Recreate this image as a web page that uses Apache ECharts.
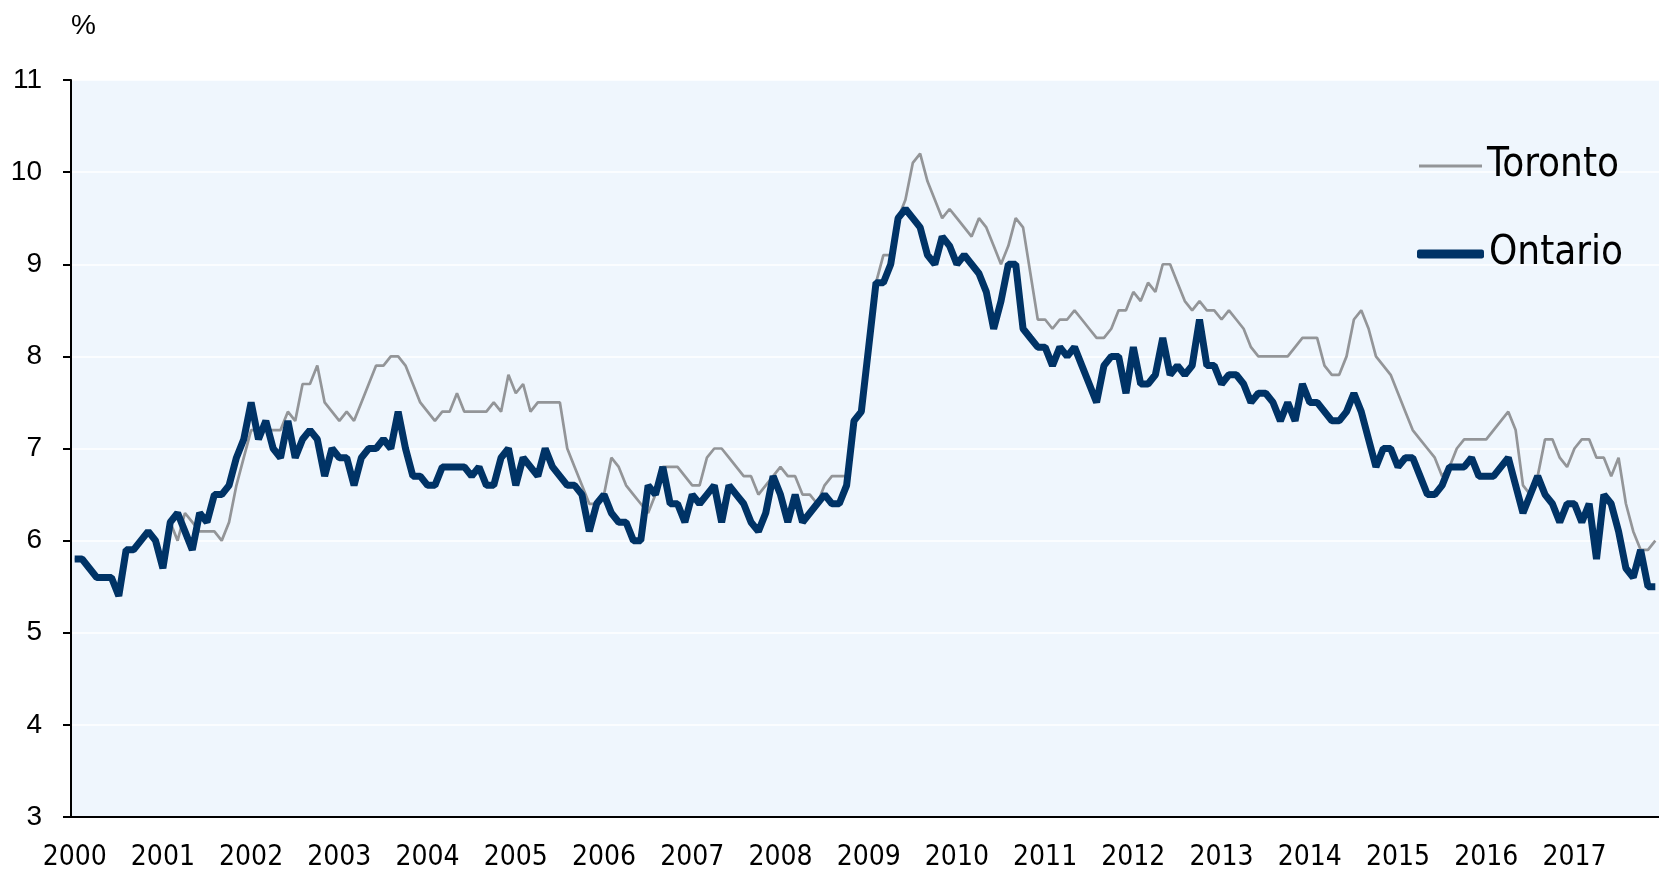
<!DOCTYPE html>
<html>
<head>
<meta charset="utf-8">
<script src="https://cdn.jsdelivr.net/npm/echarts@6/dist/echarts.min.js"></script>
<style>
  html, body { margin: 0; padding: 0; background: #fff; }
  #chart { width: 1659px; height: 876px; }
</style>
</head>
<body>
<div id="chart"></div>
<script>
// tick labels: one per year, data is monthly from Jan 2000 to Dec 2017
var years = [2000, 2001, 2002, 2003, 2004, 2005, 2006, 2007, 2008,
  2009, 2010, 2011, 2012, 2013, 2014, 2015, 2016, 2017];

// unemployment rate, %
var ontario = [
  5.8, 5.8, 5.7, 5.6, 5.6, 5.6, 5.4, 5.9, 5.9, 6.0, 6.1, 6.0,
  5.7, 6.2, 6.3, 6.1, 5.9, 6.3, 6.2, 6.5, 6.5, 6.6, 6.9, 7.1,
  7.5, 7.1, 7.3, 7.0, 6.9, 7.3, 6.9, 7.1, 7.2, 7.1, 6.7, 7.0,
  6.9, 6.9, 6.6, 6.9, 7.0, 7.0, 7.1, 7.0, 7.4, 7.0, 6.7, 6.7,
  6.6, 6.6, 6.8, 6.8, 6.8, 6.8, 6.7, 6.8, 6.6, 6.6, 6.9, 7.0,
  6.6, 6.9, 6.8, 6.7, 7.0, 6.8, 6.7, 6.6, 6.6, 6.5, 6.1, 6.4,
  6.5, 6.3, 6.2, 6.2, 6.0, 6.0, 6.6, 6.5, 6.8, 6.4, 6.4, 6.2,
  6.5, 6.4, 6.5, 6.6, 6.2, 6.6, 6.5, 6.4, 6.2, 6.1, 6.3, 6.7,
  6.5, 6.2, 6.5, 6.2, 6.3, 6.4, 6.5, 6.4, 6.4, 6.6, 7.3, 7.4,
  8.1, 8.8, 8.8, 9.0, 9.5, 9.6, 9.5, 9.4, 9.1, 9.0, 9.3, 9.2,
  9.0, 9.1, 9.0, 8.9, 8.7, 8.3, 8.6, 9.0, 9.0, 8.3, 8.2, 8.1,
  8.1, 7.9, 8.1, 8.0, 8.1, 7.9, 7.7, 7.5, 7.9, 8.0, 8.0, 7.6,
  8.1, 7.7, 7.7, 7.8, 8.2, 7.8, 7.9, 7.8, 7.9, 8.4, 7.9, 7.9,
  7.7, 7.8, 7.8, 7.7, 7.5, 7.6, 7.6, 7.5, 7.3, 7.5, 7.3, 7.7,
  7.5, 7.5, 7.4, 7.3, 7.3, 7.4, 7.6, 7.4, 7.1, 6.8, 7.0, 7.0,
  6.8, 6.9, 6.9, 6.7, 6.5, 6.5, 6.6, 6.8, 6.8, 6.8, 6.9, 6.7,
  6.7, 6.7, 6.8, 6.9, 6.6, 6.3, 6.5, 6.7, 6.5, 6.4, 6.2, 6.4,
  6.4, 6.2, 6.4, 5.8, 6.5, 6.4, 6.1, 5.7, 5.6, 5.9, 5.5, 5.5
];

var toronto = [
  5.8, 5.8, 5.7, 5.6, 5.6, 5.6, 5.4, 5.9, 5.9, 6.0, 6.1, 6.0,
  5.7, 6.2, 6.0, 6.3, 6.2, 6.1, 6.1, 6.1, 6.0, 6.2, 6.6, 6.9,
  7.2, 7.2, 7.2, 7.2, 7.2, 7.4, 7.3, 7.7, 7.7, 7.9, 7.5, 7.4,
  7.3, 7.4, 7.3, 7.5, 7.7, 7.9, 7.9, 8.0, 8.0, 7.9, 7.7, 7.5,
  7.4, 7.3, 7.4, 7.4, 7.6, 7.4, 7.4, 7.4, 7.4, 7.5, 7.4, 7.8,
  7.6, 7.7, 7.4, 7.5, 7.5, 7.5, 7.5, 7.0, 6.8, 6.6, 6.4, 6.4,
  6.5, 6.9, 6.8, 6.6, 6.5, 6.4, 6.3, 6.5, 6.8, 6.8, 6.8, 6.7,
  6.6, 6.6, 6.9, 7.0, 7.0, 6.9, 6.8, 6.7, 6.7, 6.5, 6.6, 6.7,
  6.8, 6.7, 6.7, 6.5, 6.5, 6.4, 6.6, 6.7, 6.7, 6.7, 7.3, 7.4,
  8.1, 8.8, 9.1, 9.1, 9.5, 9.7, 10.1, 10.2, 9.9, 9.7, 9.5, 9.6,
  9.5, 9.4, 9.3, 9.5, 9.4, 9.2, 9.0, 9.2, 9.5, 9.4, 8.9, 8.4,
  8.4, 8.3, 8.4, 8.4, 8.5, 8.4, 8.3, 8.2, 8.2, 8.3, 8.5, 8.5,
  8.7, 8.6, 8.8, 8.7, 9.0, 9.0, 8.8, 8.6, 8.5, 8.6, 8.5, 8.5,
  8.4, 8.5, 8.4, 8.3, 8.1, 8.0, 8.0, 8.0, 8.0, 8.0, 8.1, 8.2,
  8.2, 8.2, 7.9, 7.8, 7.8, 8.0, 8.4, 8.5, 8.3, 8.0, 7.9, 7.8,
  7.6, 7.4, 7.2, 7.1, 7.0, 6.9, 6.7, 6.8, 7.0, 7.1, 7.1, 7.1,
  7.1, 7.2, 7.3, 7.4, 7.2, 6.6, 6.5, 6.7, 7.1, 7.1, 6.9, 6.8,
  7.0, 7.1, 7.1, 6.9, 6.9, 6.7, 6.9, 6.4, 6.1, 5.9, 5.9, 6.0
];

var months = [];
years.forEach(function (y) {
  for (var m = 1; m <= 12; m++) months.push(y + '-' + (m < 10 ? '0' : '') + m);
});

var labelFont = '"DejaVu Sans Condensed", "DejaVu Sans", sans-serif';
var numFont = '"Liberation Sans", Arial, sans-serif';
var everyJan = function (idx) { return idx % 12 === 0; };

var legendText = { fontFamily: labelFont, fontSize: 40, lineHeight: 40, color: '#000' };

var chart = echarts.init(document.getElementById('chart'));
chart.setOption({
  animation: false,
  backgroundColor: '#fff',
  title: {
    text: '%', left: 66, top: 7,
    textStyle: { fontFamily: numFont, fontSize: 28, fontWeight: 'normal', color: '#000' }
  },
  grid: {
    left: 71, right: 0, top: 80, bottom: 59,
    show: true, backgroundColor: '#eff6fd', borderWidth: 0
  },
  legend: [
    {
      data: [{ name: 'Toronto', icon: 'rect' }],
      left: 1419, top: 146, padding: 0,
      itemWidth: 63, itemHeight: 3, textStyle: legendText
    },
    {
      data: [{ name: 'Ontario', icon: 'roundRect' }],
      left: 1417, top: 234, padding: 0,
      itemWidth: 67, itemHeight: 9, textStyle: legendText
    }
  ],
  xAxis: {
    type: 'category',
    data: months,
    boundaryGap: true,
    axisLine: { lineStyle: { color: '#000', width: 2 } },
    axisTick: { interval: everyJan, length: 10, lineStyle: { color: '#000', width: 2 } },
    axisLabel: {
      interval: everyJan, margin: 27,
      formatter: function (v) { return v.slice(0, 4); },
      fontFamily: labelFont, fontSize: 28, color: '#000'
    },
    splitLine: { show: false }
  },
  yAxis: {
    type: 'value', min: 3, max: 11, interval: 1,
    axisLine: { show: true, lineStyle: { color: '#000', width: 2 } },
    axisTick: { show: true, length: 8, lineStyle: { color: '#000', width: 2 } },
    axisLabel: { margin: 29, fontFamily: numFont, fontSize: 28, color: '#000' },
    splitLine: { lineStyle: { color: '#fff', width: 1.5 } }
  },
  series: [
    {
      name: 'Toronto', type: 'line', data: toronto,
      showSymbol: false, symbol: 'none',
      lineStyle: { color: '#939598', width: 2.7 },
      itemStyle: { color: '#939598' }
    },
    {
      name: 'Ontario', type: 'line', data: ontario,
      showSymbol: false, symbol: 'none',
      lineStyle: { color: '#003366', width: 7 },
      itemStyle: { color: '#003366' }
    }
  ]
});
</script>
</body>
</html>
